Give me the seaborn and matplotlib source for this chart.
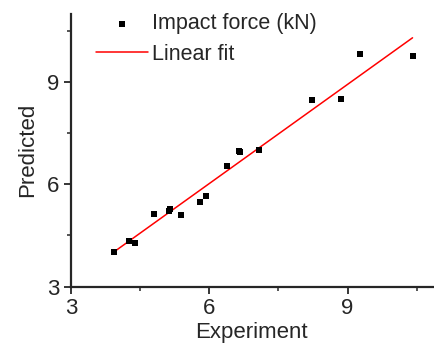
import numpy as np
import pandas as pd
import seaborn as sns
import matplotlib.pyplot as plt

# 데이터
experiment = [3.94, 4.26, 4.40, 4.81, 5.14, 5.12, 5.39, 5.79, 5.94, 6.39,
              6.64, 6.67, 7.08, 8.23, 8.86, 9.28, 10.41]
predicted = [4.01, 4.34, 4.28, 5.14, 5.28, 5.22, 5.10, 5.49, 5.65, 6.53,
             6.99, 6.94, 7.00, 8.47, 8.51, 9.83, 9.75]
df = pd.DataFrame({'Experiment': experiment, 'Predicted': predicted})

sns.set_style('ticks')
plt.rcParams['font.family'] = ['Liberation Sans', 'DejaVu Sans']
plt.rcParams['font.size'] = 16

fig = plt.figure(figsize=(4.35, 3.47), dpi=100)
ax = fig.add_axes([0.163, 0.174, 0.832, 0.786])

sns.scatterplot(data=df, x='Experiment', y='Predicted', marker='s', s=24,
                color='black', edgecolor='black', linewidth=0,
                label='Impact force (kN)', ax=ax, zorder=3)
sns.regplot(data=df, x='Experiment', y='Predicted', scatter=False, ci=None,
            color='red', line_kws={'linewidth': 1.1}, label='Linear fit', ax=ax)

ax.set_xlim(3, 10.85)
ax.set_ylim(3, 11)
ax.set_xticks([3, 6, 9])
ax.set_yticks([3, 6, 9])
ax.set_xticks([4.5, 7.5, 10.5], minor=True)
ax.set_yticks([4.5, 7.5, 10.5], minor=True)
ax.tick_params(which='major', length=5, width=1.3, labelsize=16, direction='out')
ax.tick_params(which='minor', length=3, width=1.1, direction='out')
for side in ['left', 'bottom']:
    ax.spines[side].set_linewidth(1.6)
sns.despine(ax=ax)

ax.set_xlabel('Experiment', fontsize=16, labelpad=2)
ax.set_ylabel('Predicted', fontsize=16, labelpad=6)

ax.legend(loc='upper left', bbox_to_anchor=(0.035, 1.05), frameon=False,
          fontsize=15.5, handlelength=2.4, handletextpad=0.2, labelspacing=0.45,
          borderaxespad=0.2)

plt.savefig('out.png', dpi=100)
